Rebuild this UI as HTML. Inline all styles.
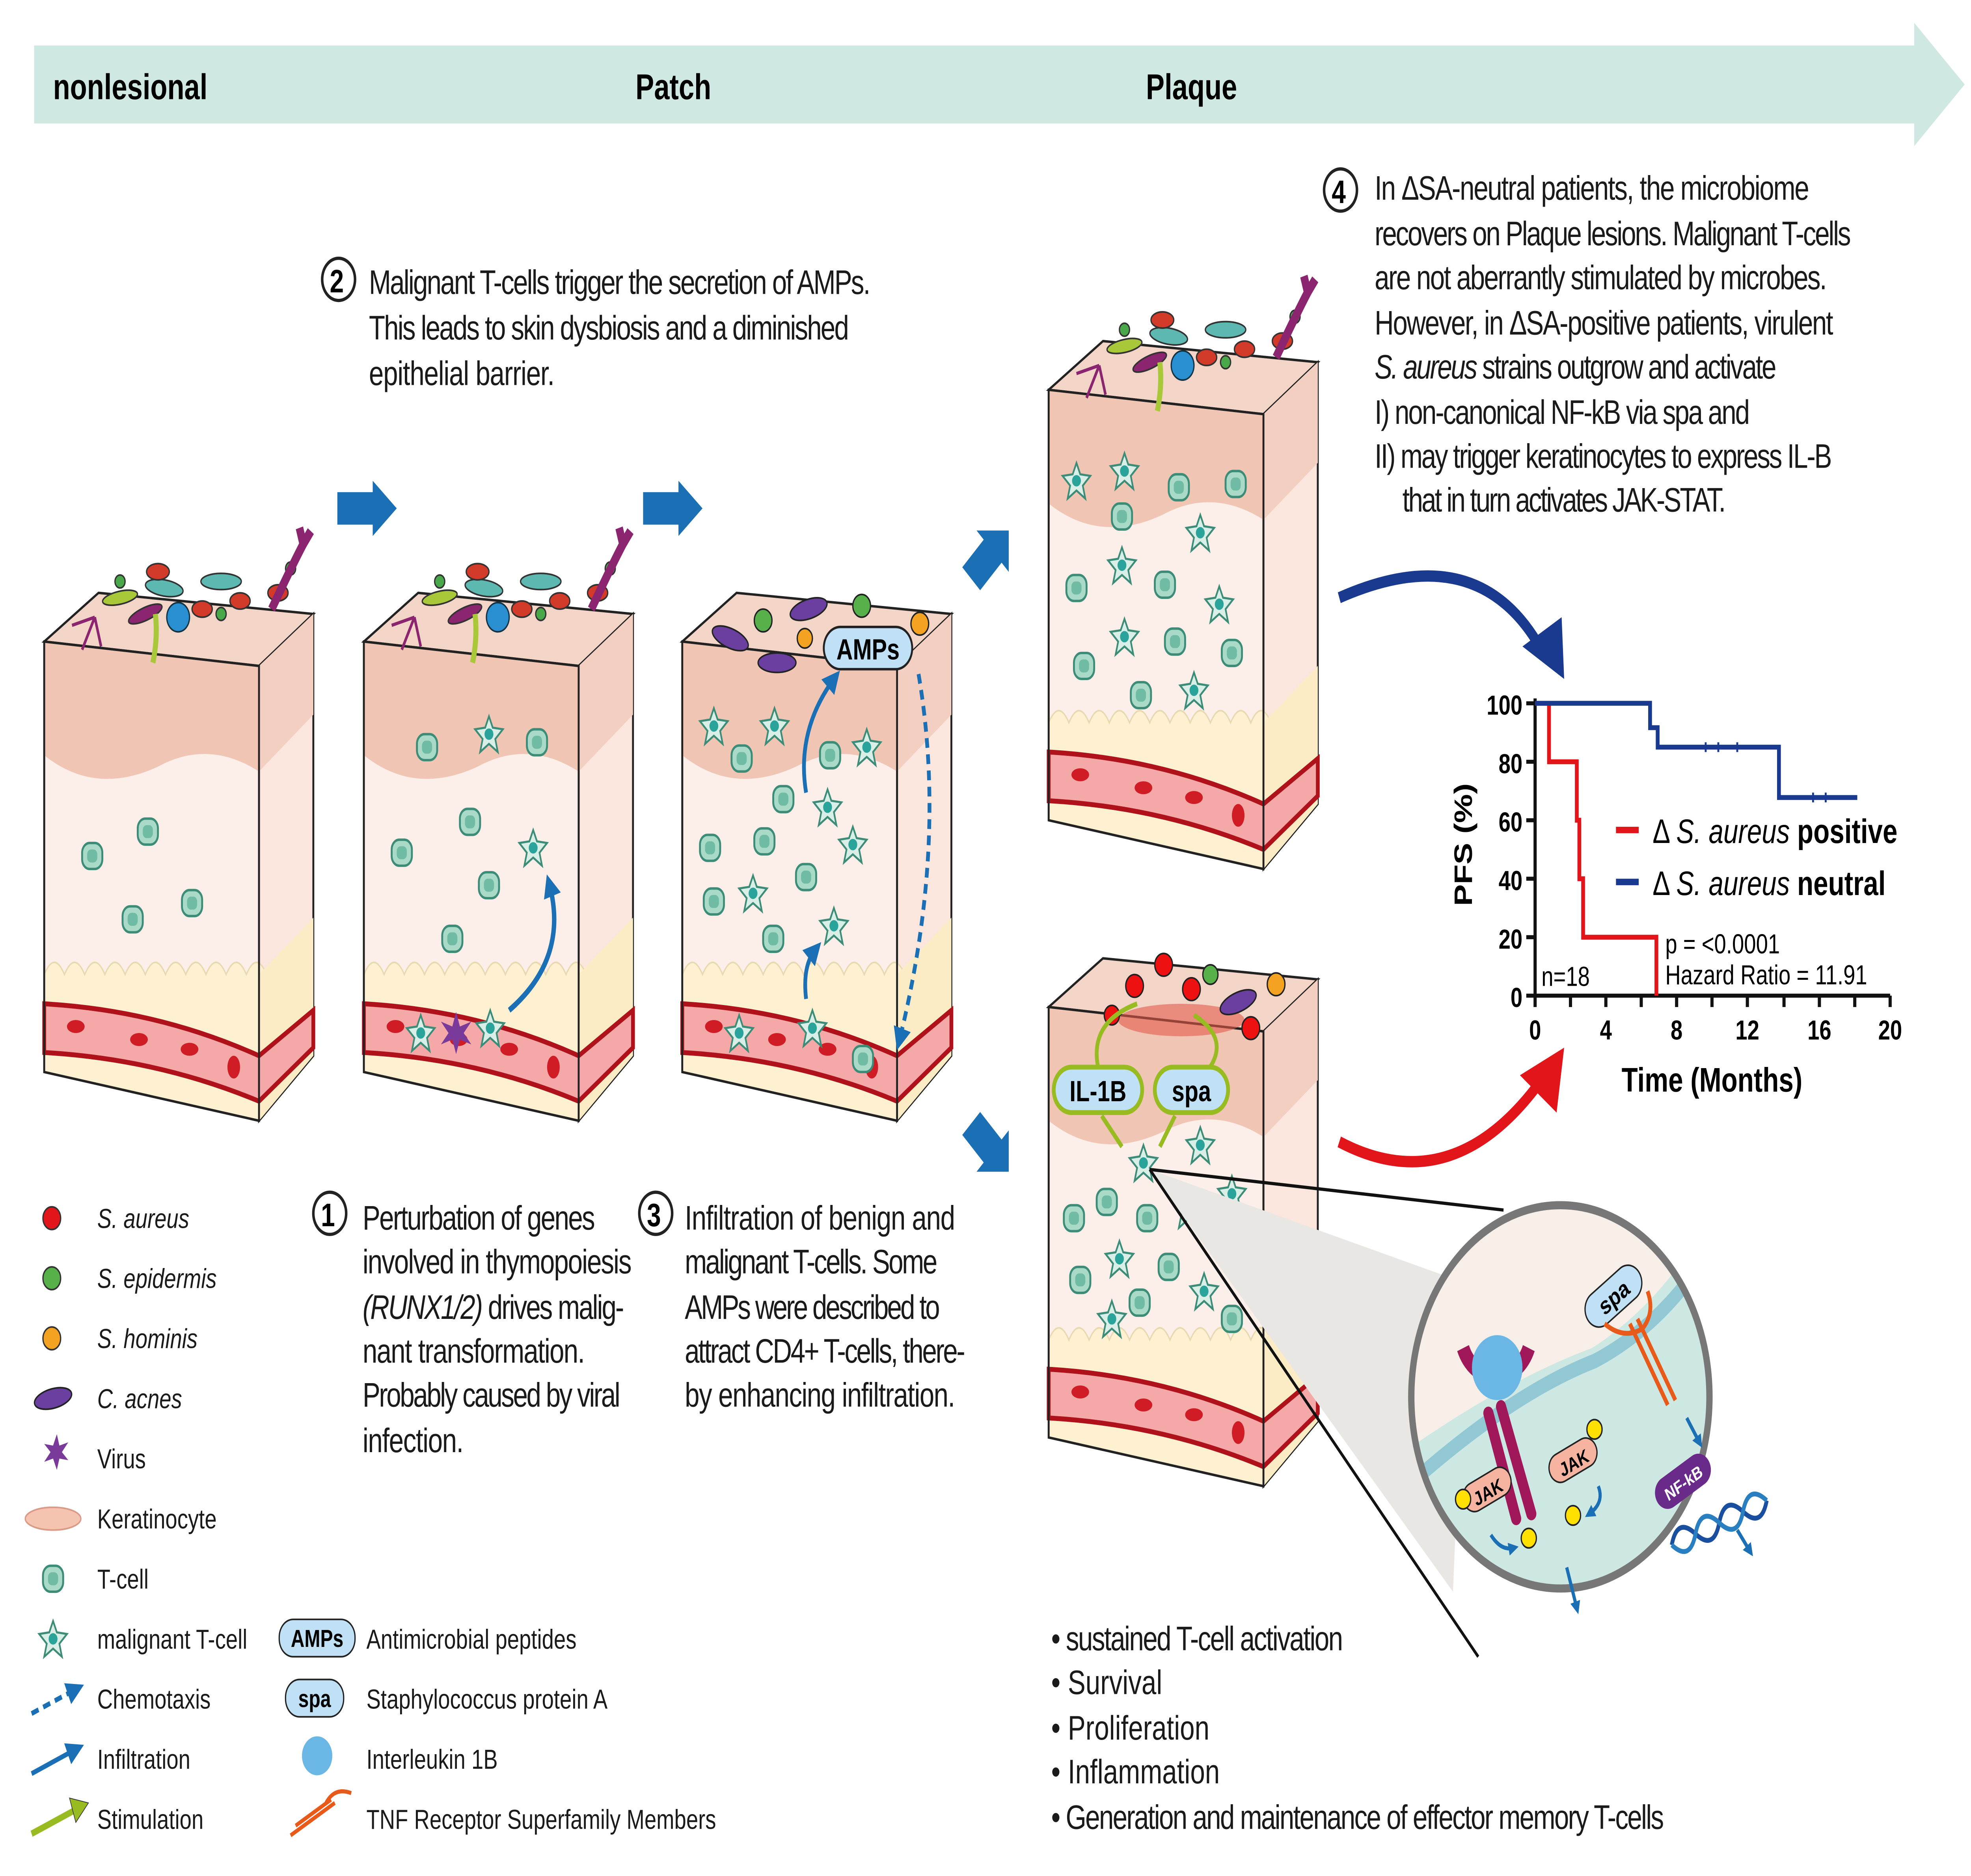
<!DOCTYPE html>
<html><head><meta charset="utf-8"><style>
html,body{margin:0;padding:0;background:#fff;width:100%;height:100%;overflow:hidden}
svg{display:block;position:fixed;left:0;top:0;width:100vw;height:100vh}
text{font-family:"Liberation Sans",sans-serif}
.t{font-size:21px;fill:#1a1a1a}
.it{font-style:italic}
.lg{font-size:17px;fill:#1a1a1a}
</style></head><body>
<svg viewBox="0 0 1560 1155" preserveAspectRatio="none" xmlns="http://www.w3.org/2000/svg">
<defs>
<g id="cell"><rect x="-8" y="-8" width="16" height="16" rx="6" fill="#a9d9c7" stroke="#3c8c78" stroke-width="1.5"/><rect x="-4" y="-4" width="8" height="8" rx="3" fill="#6fbba4"/></g>
<g id="mcell"><path d="M0,-11 L3,-4 L11,-3 L5,3 L7,11 L0,6 L-7,11 L-5,3 L-11,-3 L-3,-4Z" fill="#d8efe8" stroke="#3c8c78" stroke-width="1.3"/><circle r="3.5" fill="#2aa39a"/></g>
<g id="block">
  <polygon points="0,35 43,5 213,18 170,50" fill="#f3d5c8" stroke="#222" stroke-width="1.5"/>
  <polygon points="170,50 213,18 213,290 170,330" fill="#fbe6de" stroke="#222" stroke-width="1.5"/>
  <polygon points="0,35 170,50 170,330 0,300" fill="#fcefe9" stroke="#222" stroke-width="1.5"/>
  <path d="M0,35 L170,50 L170,115 Q130,95 90,112 Q40,130 0,105Z" fill="#f0c5b3"/>
  <path d="M170,50 L213,18 L213,80 L170,115Z" fill="#f2cfc0"/>
  <path d="M0,240 q8,-15 16,0 q8,-15 16,0 q8,-15 16,0 q8,-15 16,0 q8,-15 16,0 q8,-15 16,0 q8,-15 16,0 q8,-15 16,0 q8,-15 16,0 q8,-15 16,0 q8,-15 16,0 L170,330 L0,300Z" fill="#fdf1d2" stroke="#e9d9b0" stroke-width="1"/>
  <path d="M170,240 L213,205 L213,290 L170,330Z" fill="#fbecc6"/>
  <path d="M0,258 Q90,262 170,290 L213,262 L213,285 L170,318 Q90,292 0,288Z" fill="#f5a8a8" stroke="#b0121c" stroke-width="3"/>
  <ellipse cx="25" cy="272" rx="7" ry="4" fill="#d01c24"/><ellipse cx="75" cy="280" rx="7" ry="4" fill="#d01c24"/><ellipse cx="115" cy="286" rx="7" ry="4" fill="#d01c24"/><ellipse cx="150" cy="297" rx="5" ry="7" fill="#d01c24"/>
  <polygon points="0,35 170,50 170,330 0,300" fill="none" stroke="#222" stroke-width="1.5"/>
</g>
<g id="microbes">
  <ellipse cx="60" cy="28" rx="14" ry="4" fill="#a8c83a" stroke="#333" transform="rotate(-10 60 28)"/>
  <ellipse cx="95" cy="22" rx="15" ry="5" fill="#5cb8b0" stroke="#333" transform="rotate(8 95 22)"/>
  <ellipse cx="140" cy="18" rx="16" ry="5" fill="#5cb8b0" stroke="#333"/>
  <ellipse cx="80" cy="38" rx="14" ry="4" fill="#8b2570" stroke="#333" transform="rotate(-20 80 38)"/>
  <ellipse cx="155" cy="30" rx="8" ry="5" fill="#d23a2a" stroke="#333"/>
  <ellipse cx="125" cy="35" rx="8" ry="5" fill="#d23a2a" stroke="#333"/>
  <ellipse cx="185" cy="25" rx="8" ry="5" fill="#d23a2a" stroke="#333"/>
  <ellipse cx="90" cy="12" rx="9" ry="5" fill="#d23a2a" stroke="#333"/>
  <circle cx="106" cy="40" r="9" fill="#2a8fd0" stroke="#134" />
  <circle cx="140" cy="38" r="4" fill="#48a84a" stroke="#333"/><circle cx="60" cy="18" r="4" fill="#48a84a" stroke="#333"/><circle cx="195" cy="10" r="4" fill="#48a84a" stroke="#333"/>
  <path d="M180,35 Q195,10 205,-5 M205,-5 l6,-8 M205,-5 l-3,-10" stroke="#8b2570" stroke-width="6" fill="none"/>
  <path d="M40,40 l-10,20 M40,40 l5,18 M40,40 l-18,5" stroke="#8b2570" stroke-width="2" fill="none"/>
  <path d="M88,38 q2,15 -2,30" stroke="#a8c83a" stroke-width="4" fill="none"/>
</g>
<marker id="ab" markerWidth="8" markerHeight="8" refX="4" refY="4" orient="auto" markerUnits="userSpaceOnUse" viewBox="0 0 8 8"><path d="M0,0 L8,4 L0,8Z" fill="#1a6fb5"/></marker>
<marker id="abb" markerWidth="14" markerHeight="14" refX="7" refY="7" orient="auto" markerUnits="userSpaceOnUse" viewBox="0 0 14 14"><path d="M0,0 L14,7 L0,14Z" fill="#1a6fb5"/></marker>
</defs>

<polygon points="27,28 1515,28 1515,14 1555,52 1515,90 1515,76 27,76" fill="#cfe8e1"/>
<text x="42" y="61" font-size="22" font-weight="bold">nonlesional</text>
<text x="503" y="61" font-size="22" font-weight="bold">Patch</text>
<text x="907" y="61" font-size="22" font-weight="bold">Plaque</text>

<circle cx="268" cy="172" r="13" fill="#fff" stroke="#222" stroke-width="2"/><text x="261" y="180" font-size="20" font-weight="bold">2</text>
<text class="t" x="292" y="181" textLength="397">Malignant T-cells trigger the secretion of AMPs.</text>
<text class="t" x="292" y="209" textLength="380">This leads to skin dysbiosis and a diminished</text>
<text class="t" x="292" y="237" textLength="147">epithelial barrier.</text>

<circle cx="1061" cy="117" r="13" fill="#fff" stroke="#222" stroke-width="2"/><text x="1054" y="125" font-size="20" font-weight="bold">4</text>
<text class="t" x="1088" y="123" textLength="344">In ΔSA-neutral patients, the microbiome</text>
<text class="t" x="1088" y="151" textLength="377">recovers on Plaque lesions. Malignant T-cells</text>
<text class="t" x="1088" y="178" textLength="358">are not aberrantly stimulated by microbes.</text>
<text class="t" x="1088" y="206" textLength="363">However, in ΔSA-positive patients, virulent</text>
<text class="t" x="1088" y="233" textLength="318"><tspan class="it">S. aureus</tspan> strains outgrow and activate</text>
<text class="t" x="1088" y="261" textLength="297">I)  non-canonical NF-kB via spa and</text>
<text class="t" x="1088" y="288" textLength="362">II) may trigger keratinocytes to express IL-B</text>
<text class="t" x="1110" y="315" textLength="256">that in turn activates JAK-STAT.</text>

<use href="#block" transform="translate(35,360)"/>
<use href="#microbes" transform="translate(35,340)"/>
<use href="#cell" x="73" y="527"/><use href="#cell" x="117" y="512"/><use href="#cell" x="105" y="566"/><use href="#cell" x="152" y="556"/>

<use href="#block" transform="translate(288,360)"/>
<use href="#microbes" transform="translate(288,340)"/>
<use href="#cell" x="338" y="460"/><use href="#cell" x="425" y="457"/><use href="#mcell" x="387" y="452"/><use href="#cell" x="318" y="525"/><use href="#cell" x="372" y="506"/><use href="#cell" x="387" y="545"/><use href="#cell" x="358" y="578"/><use href="#mcell" x="422" y="522"/>
<use href="#mcell" x="333" y="636"/><use href="#mcell" x="388" y="633"/>
<path d="M358,632 l3,-9 l3,9 l9,-3 l-6,7 l6,7 l-9,-3 l-3,9 l-3,-9 l-9,3 l6,-7 l-6,-7Z" fill="#7a3a9a"/>
<path d="M403,622 Q450,590 435,545" stroke="#1a6fb5" stroke-width="3.5" fill="none" marker-end="url(#abb)"/>

<use href="#block" transform="translate(540,360)"/>
<ellipse cx="578" cy="393" rx="15" ry="6" fill="#6a3fa0" stroke="#222" transform="rotate(20 578 393)"/>
<ellipse cx="640" cy="375" rx="15" ry="6" fill="#6a3fa0" stroke="#222" transform="rotate(-15 640 375)"/>
<ellipse cx="615" cy="408" rx="15" ry="6" fill="#6a3fa0" stroke="#222"/>
<circle cx="604" cy="382" r="7" fill="#58b04a" stroke="#222"/><circle cx="682" cy="373" r="7" fill="#58b04a" stroke="#222"/><circle cx="728" cy="384" r="7" fill="#f3a321" stroke="#222"/><circle cx="637" cy="393" r="6" fill="#f3a321" stroke="#222"/>
<rect x="652" y="386" width="70" height="26" rx="13" fill="#bfe0f5" stroke="#222" stroke-width="1.5"/><text x="687" y="406" font-size="18" font-weight="bold" text-anchor="middle">AMPs</text>
<use href="#mcell" x="565" y="447"/><use href="#cell" x="587" y="467"/><use href="#mcell" x="613" y="447"/><use href="#cell" x="657" y="465"/><use href="#mcell" x="686" y="460"/>
<use href="#cell" x="620" y="492"/><use href="#mcell" x="655" y="497"/><use href="#cell" x="562" y="522"/><use href="#cell" x="605" y="518"/><use href="#mcell" x="675" y="520"/><use href="#cell" x="638" y="540"/><use href="#cell" x="565" y="555"/><use href="#mcell" x="596" y="550"/><use href="#mcell" x="660" y="570"/><use href="#cell" x="612" y="578"/>
<use href="#mcell" x="585" y="636"/><use href="#mcell" x="643" y="633"/><use href="#cell" x="683" y="652"/>
<path d="M638,488 Q630,450 660,418" stroke="#1a6fb5" stroke-width="3" fill="none" marker-end="url(#abb)"/>
<path d="M638,615 Q635,595 645,585" stroke="#1a6fb5" stroke-width="3" fill="none" marker-end="url(#abb)"/>
<path d="M727,415 Q750,520 712,640" stroke="#1a6fb5" stroke-width="3" stroke-dasharray="6,4" fill="none" marker-end="url(#abb)"/>

<polygon points="267,303 295,303 295,296 314,313 295,330 295,323 267,323" fill="#1a6fb5"/>
<polygon points="509,303 537,303 537,296 556,313 537,330 537,323 509,323" fill="#1a6fb5"/>
<g transform="translate(780,345) rotate(-45)"><polygon points="-16,-10 8,-10 8,-18 26,0 8,18 8,10 -16,10" fill="#1a6fb5"/></g>
<g transform="translate(780,703) rotate(45)"><polygon points="-16,-10 8,-10 8,-18 26,0 8,18 8,10 -16,10" fill="#1a6fb5"/></g>

<use href="#block" transform="translate(830,205)"/>
<use href="#microbes" transform="translate(830,185)"/>
<use href="#mcell" x="852" y="296"/><use href="#cell" x="888" y="318"/><use href="#mcell" x="890" y="290"/><use href="#cell" x="933" y="300"/><use href="#cell" x="978" y="298"/><use href="#mcell" x="950" y="328"/><use href="#cell" x="852" y="362"/><use href="#mcell" x="888" y="348"/><use href="#cell" x="922" y="360"/><use href="#mcell" x="965" y="372"/><use href="#mcell" x="890" y="392"/><use href="#cell" x="930" y="395"/><use href="#cell" x="975" y="402"/><use href="#cell" x="858" y="410"/><use href="#cell" x="903" y="428"/><use href="#mcell" x="945" y="425"/>

<use href="#block" transform="translate(830,585)"/>
<ellipse cx="935" cy="628" rx="50" ry="10" fill="#e35a4a" opacity="0.6"/>
<circle cx="921" cy="594" r="7" fill="#e11" stroke="#222"/><circle cx="898" cy="607" r="7" fill="#e11" stroke="#222"/><circle cx="943" cy="609" r="7" fill="#e11" stroke="#222"/><circle cx="990" cy="633" r="7" fill="#e11" stroke="#222"/><circle cx="880" cy="625" r="6" fill="#e11" stroke="#222"/>
<ellipse cx="980" cy="617" rx="15" ry="6" fill="#6a3fa0" stroke="#222" transform="rotate(-20 980 617)"/>
<circle cx="1010" cy="606" r="7" fill="#f3a321" stroke="#222"/><circle cx="958" cy="600" r="6" fill="#58b04a" stroke="#222"/>
<path d="M900,618 Q860,630 870,660" stroke="#99bb22" stroke-width="3" fill="none"/>
<path d="M945,625 Q975,640 955,660" stroke="#99bb22" stroke-width="3" fill="none"/>
<rect x="834" y="657" width="70" height="28" rx="14" fill="#bfe0f5" stroke="#99bb22" stroke-width="3"/><text x="869" y="678" font-size="18" font-weight="bold" text-anchor="middle">IL-1B</text>
<rect x="914" y="657" width="58" height="28" rx="14" fill="#bfe0f5" stroke="#99bb22" stroke-width="3"/><text x="943" y="678" font-size="18" font-weight="bold" text-anchor="middle">spa</text>
<path d="M872,687 L888,706" stroke="#99bb22" stroke-width="3"/><path d="M930,687 L918,706" stroke="#99bb22" stroke-width="3"/>
<use href="#mcell" x="905" y="716"/><use href="#mcell" x="950" y="705"/><use href="#cell" x="850" y="750"/><use href="#cell" x="876" y="740"/><use href="#cell" x="908" y="750"/><use href="#mcell" x="940" y="745"/><use href="#mcell" x="975" y="735"/><use href="#cell" x="855" y="788"/><use href="#mcell" x="886" y="775"/><use href="#cell" x="925" y="780"/><use href="#mcell" x="953" y="795"/><use href="#cell" x="978" y="775"/><use href="#cell" x="902" y="802"/><use href="#mcell" x="880" y="812"/><use href="#cell" x="975" y="812"/>

<path d="M910,720 L1160,790 L1150,980 Z" fill="#e9e7e3" stroke="none"/>
<path d="M910,720 L1190,745 M910,720 L1170,1020" stroke="#111" stroke-width="2" fill="none"/>
<circle cx="1235" cy="860" r="118" fill="#cde8e2"/>
<clipPath id="cc"><circle cx="1235" cy="860" r="118"/></clipPath>
<g clip-path="url(#cc)">
<path d="M1100,900 Q1190,850 1260,830 Q1320,800 1360,740 L1360,700 L1100,700Z" fill="#f8eee8"/>
<path d="M1100,925 Q1190,860 1262,838 Q1330,810 1370,745" stroke="#92c8d4" stroke-width="9" fill="none"/>
</g>
<circle cx="1235" cy="860" r="118" fill="none" stroke="#777" stroke-width="5"/>
<path d="M1158,830 A28,28 0 0 0 1210,830" stroke="#a0185a" stroke-width="10" fill="none"/>
<circle cx="1185" cy="842" r="20" fill="#6ab6e4"/>
<path d="M1178,870 L1200,935 M1188,866 L1212,932" stroke="#a0185a" stroke-width="8" stroke-linecap="round"/>
<rect x="1157" y="908" width="40" height="18" rx="9" fill="#f5b3a0" stroke="#222" transform="rotate(-25 1177 917)"/><text x="1177" y="923" font-size="12" font-weight="bold" text-anchor="middle" transform="rotate(-25 1177 917)">JAK</text>
<rect x="1225" y="890" width="40" height="18" rx="9" fill="#f5b3a0" stroke="#222" transform="rotate(-25 1245 899)"/><text x="1245" y="905" font-size="12" font-weight="bold" text-anchor="middle" transform="rotate(-25 1245 899)">JAK</text>
<circle cx="1158" cy="923" r="6" fill="#ffe000" stroke="#222"/><circle cx="1210" cy="947" r="6" fill="#ffe000" stroke="#222"/><circle cx="1245" cy="933" r="6" fill="#ffe000" stroke="#222"/><circle cx="1262" cy="880" r="6" fill="#ffe000" stroke="#222"/>
<rect x="1252" y="787" width="50" height="22" rx="11" fill="#bfe0f5" stroke="#222" transform="rotate(-35 1277 798)"/><text x="1277" y="804" font-size="15" font-weight="bold" text-anchor="middle" transform="rotate(-35 1277 798)">spa</text>
<path d="M1290,815 L1320,865 M1296,812 L1326,862" stroke="#e85a1a" stroke-width="3"/>
<path d="M1270,815 Q1285,825 1300,818 Q1310,808 1304,795" stroke="#e85a1a" stroke-width="3" fill="none"/>
<rect x="1308" y="902" width="48" height="20" rx="10" fill="#6a2a8a" transform="rotate(-30 1332 912)"/><text x="1332" y="917" font-size="11" font-weight="bold" fill="#fff" text-anchor="middle" transform="rotate(-30 1332 912)">NF-kB</text>
<path d="M1318,938 q10,-15 20,0 q10,15 20,0 q10,-15 20,0 q10,15 20,0" stroke="#1a4fa0" stroke-width="3" fill="none" transform="rotate(-20 1358 930)"/>
<path d="M1318,938 q10,15 20,0 q10,-15 20,0 q10,15 20,0 q10,-15 20,0" stroke="#2a7fc0" stroke-width="3" fill="none" transform="rotate(-20 1358 930)"/>
<path d="M1240,965 L1248,990" stroke="#1a6fb5" stroke-width="2.5" marker-end="url(#ab)"/>
<path d="M1335,873 L1345,888" stroke="#1a6fb5" stroke-width="2.5" marker-end="url(#ab)"/>
<path d="M1375,942 L1385,955" stroke="#1a6fb5" stroke-width="2.5" marker-end="url(#ab)"/>
<path d="M1180,945 Q1188,955 1198,953" stroke="#1a6fb5" stroke-width="2.5" fill="none" marker-end="url(#ab)"/>
<path d="M1265,915 Q1270,925 1258,932" stroke="#1a6fb5" stroke-width="2.5" fill="none" marker-end="url(#ab)"/>

<path d="M1060,368 Q1170,330 1220,400" stroke="#1a3a90" stroke-width="7" fill="none"/>
<polygon points="1205,398 1238,418 1236,380" fill="#1a3a90"/>
<path d="M1060,703 Q1150,740 1220,665" stroke="#e2151b" stroke-width="7" fill="none"/>
<polygon points="1203,662 1238,645 1232,685" fill="#e2151b"/>

<g stroke="#111" stroke-width="2.5" fill="none">
<path d="M1215,430 V613 H1496"/>
<path d="M1208,433 h7 M1208,469 h7 M1208,505 h7 M1208,541 h7 M1208,577 h7 M1208,613 h7"/>
<path d="M1215,613 v7 M1243,613 v7 M1271,613 v7 M1299,613 v7 M1327,613 v7 M1355,613 v7 M1383,613 v7 M1412,613 v7 M1440,613 v7 M1468,613 v7 M1496,613 v7"/>
</g>
<g font-size="17" font-weight="bold" text-anchor="end"><text x="1205" y="440">100</text><text x="1205" y="476">80</text><text x="1205" y="512">60</text><text x="1205" y="548">40</text><text x="1205" y="584">20</text><text x="1205" y="620">0</text></g>
<g font-size="17" font-weight="bold" text-anchor="middle"><text x="1215" y="640">0</text><text x="1271" y="640">4</text><text x="1327" y="640">8</text><text x="1383" y="640">12</text><text x="1440" y="640">16</text><text x="1496" y="640">20</text></g>
<text x="1355" y="672" font-size="21" font-weight="bold" text-anchor="middle">Time (Months)</text>
<text transform="translate(1165,520) rotate(-90)" font-size="20" font-weight="bold" text-anchor="middle">PFS (%)</text>
<path d="M1215,433 H1226 V469 H1248 V505 H1250 V541 H1253 V577 H1311 V613" stroke="#e2151b" stroke-width="3" fill="none"/>
<path d="M1215,433 H1306 V448 H1312 V460 H1408 V491 H1470" stroke="#1a3a90" stroke-width="3" fill="none"/>
<path d="M1350,457 v6 M1360,457 v6 M1375,457 v6 M1435,488 v6 M1445,488 v6" stroke="#1a3a90" stroke-width="1.5"/>
<path d="M1279,511 h18" stroke="#e2151b" stroke-width="4"/><text x="1308" y="519" font-size="21">Δ <tspan font-style="italic">S. aureus</tspan> <tspan font-weight="bold">positive</tspan></text>
<path d="M1279,543 h18" stroke="#1a3a90" stroke-width="4"/><text x="1308" y="551" font-size="21">Δ <tspan font-style="italic">S. aureus</tspan> <tspan font-weight="bold">neutral</tspan></text>
<text x="1318" y="587" font-size="17">p = &lt;0.0001</text>
<text x="1318" y="606" font-size="17">Hazard Ratio = 11.91</text>
<text x="1220" y="607" font-size="17">n=18</text>

<circle cx="261" cy="747" r="13" fill="#fff" stroke="#222" stroke-width="2"/><text x="254" y="755" font-size="20" font-weight="bold">1</text>
<text class="t" x="287" y="757" textLength="184">Perturbation of genes</text>
<text class="t" x="287" y="784" textLength="213">involved in thymopoiesis</text>
<text class="t" x="287" y="812" textLength="207"><tspan class="it">(RUNX1/2)</tspan> drives malig-</text>
<text class="t" x="287" y="839" textLength="176">nant transformation.</text>
<text class="t" x="287" y="866" textLength="204">Probably caused by viral</text>
<text class="t" x="287" y="894" textLength="80">infection.</text>
<circle cx="519" cy="747" r="13" fill="#fff" stroke="#222" stroke-width="2"/><text x="512" y="755" font-size="20" font-weight="bold">3</text>
<text class="t" x="542" y="757" textLength="214">Infiltration of benign and</text>
<text class="t" x="542" y="784" textLength="200">malignant T-cells. Some</text>
<text class="t" x="542" y="812" textLength="202">AMPs were described to</text>
<text class="t" x="542" y="839" textLength="222">attract CD4+ T-cells, there-</text>
<text class="t" x="542" y="866" textLength="214">by enhancing infiltration.</text>

<circle cx="41" cy="750" r="7" fill="#e2151b" stroke="#333"/><text class="lg it" x="77" y="756">S. aureus</text>
<circle cx="41" cy="787" r="7" fill="#58b04a" stroke="#333"/><text class="lg it" x="77" y="793">S. epidermis</text>
<circle cx="41" cy="824" r="7" fill="#f3a321" stroke="#333"/><text class="lg it" x="77" y="830">S. hominis</text>
<ellipse cx="42" cy="861" rx="15" ry="6" fill="#6a3fa0" stroke="#222" transform="rotate(-12 42 861)"/><text class="lg it" x="77" y="867">C. acnes</text>
<path d="M42,890 l3,-7 l2,7 l7,-2 l-5,6 l5,5 l-7,-1 l-2,7 l-3,-7 l-7,2 l5,-6 l-5,-5Z" fill="#7a3a9a"/><text class="lg" x="77" y="904">Virus</text>
<ellipse cx="42" cy="935" rx="22" ry="7" fill="#f5c4b0" stroke="#d99a86"/><text class="lg" x="77" y="941">Keratinocyte</text>
<use href="#cell" x="42" y="972"/><text class="lg" x="77" y="978">T-cell</text>
<use href="#mcell" x="42" y="1009"/><text class="lg" x="77" y="1015">malignant T-cell</text>
<path d="M25,1055 L60,1040" stroke="#1a6fb5" stroke-width="3" stroke-dasharray="6,4" marker-end="url(#abb)"/><text class="lg" x="77" y="1052">Chemotaxis</text>
<path d="M25,1092 L60,1077" stroke="#1a6fb5" stroke-width="3" marker-end="url(#abb)"/><text class="lg" x="77" y="1089">Infiltration</text>
<path d="M25,1129 L58,1115" stroke="#99bb22" stroke-width="4"/><polygon points="55,1107 70,1110 60,1122" fill="#99bb22" stroke="#333" stroke-width="0.5"/><text class="lg" x="77" y="1126">Stimulation</text>
<rect x="221" y="997" width="60" height="23" rx="11" fill="#bfe0f5" stroke="#222"/><text x="251" y="1014" font-size="15" font-weight="bold" text-anchor="middle">AMPs</text><text class="lg" x="290" y="1015">Antimicrobial peptides</text>
<rect x="226" y="1034" width="46" height="23" rx="11" fill="#bfe0f5" stroke="#222"/><text x="249" y="1051" font-size="15" font-weight="bold" text-anchor="middle">spa</text><text class="lg" x="290" y="1052">Staphylococcus protein A</text>
<circle cx="251" cy="1081" r="12" fill="#6ab6e4"/><text class="lg" x="290" y="1089">Interleukin 1B</text>
<path d="M230,1130 L265,1110 M234,1124 L262,1108 M258,1110 Q265,1100 278,1104" stroke="#e85a1a" stroke-width="2.5" fill="none"/><text class="lg" x="290" y="1126">TNF Receptor Superfamily Members</text>

<text class="t" x="832" y="1016" textLength="231">• sustained T-cell activation</text>
<text class="t" x="832" y="1043">• Survival</text>
<text class="t" x="832" y="1071">• Proliferation</text>
<text class="t" x="832" y="1098">• Inflammation</text>
<text class="t" x="832" y="1126" textLength="485">• Generation and maintenance of effector memory T-cells</text>
</svg>
</body></html>
